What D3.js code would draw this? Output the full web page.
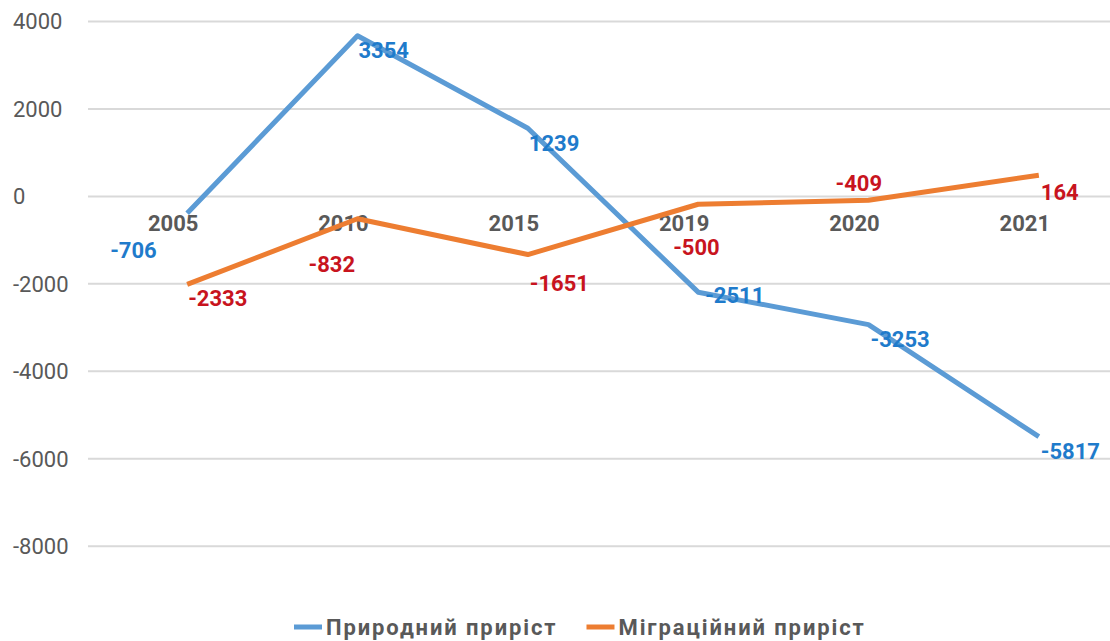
<!DOCTYPE html>
<html>
<head>
<meta charset="utf-8">
<script src="https://cdn.jsdelivr.net/npm/d3@7"></script>
<style>
body{margin:0;background:#fff;}
svg{font-family:Roboto,"Liberation Sans",sans-serif;}
</style>
</head>
<body>
<div id="plot" style="width:1110px;height:641px;"></div>
<script>
// data
var years = ['2005','2010','2015','2019','2020','2021'];
var natural = [-706, 3354, 1239, -2511, -3253, -5817];
var migration = [-2333, -832, -1651, -500, -409, 164];
var yTicks = [4000, 2000, 0, -2000, -4000, -6000, -8000];
var seriesNames = ['Природний приріст', 'Міграційний приріст'];

// hand placed label nudges (layout only)
var naturalNudge = [[-77,23],[1,0],[1,1],[7,-11],[2,0],[2,0]];
var migrationNudge = [[1,0],[-49,31],[2,15],[-25,29],[-33,-31],[2,3]];

var margin = {t:21.5, r:0, b:95, l:88};
var width = 1110 - margin.l - margin.r,
	height = 641 - margin.t - margin.b;

var svg = d3.select('#plot')
	.append('svg')
	.attr('width', 1110)
	.attr('height', 641);

var plot = svg.append('g')
	.attr('transform','translate('+margin.l+','+margin.t+')');

var x = d3.scaleBand().domain(years).range([0, width]);
var y = d3.scaleLinear().domain([-8000, 4000]).range([height * 1.0003, 0]);
// the plotted lines sit a little off the axis in the original
var shift = 14;
function px(d, i) { return x(years[i]) + x.bandwidth()/2; }

// gridlines
plot.selectAll('.grid')
	.data(yTicks)
	.enter()
	.append('line')
	.attr('x1', 0)
	.attr('x2', width)
	.attr('y1', function(d){ return y(d); })
	.attr('y2', function(d){ return y(d); })
	.style('stroke', '#d9d9d9')
	.style('stroke-width', 2);

// y tick labels
svg.selectAll('.ytick')
	.data(yTicks)
	.enter()
	.append('text')
	.attr('x', 13)
	.attr('y', function(d){ return margin.t + y(d); })
	.attr('dy', '0.36em')
	.style('font-size', '22px')
	.style('fill', '#595959')
	.text(function(d){ return d; });

// category labels next to the zero line
plot.selectAll('.xtick')
	.data(years)
	.enter()
	.append('text')
	.attr('x', function(d){ return x(d) + x.bandwidth()/2; })
	.attr('y', y(0) + 27)
	.attr('dy', '0.36em')
	.attr('text-anchor', 'middle')
	.style('font-size', '22px')
	.style('font-weight', 'bold')
	.style('fill', '#595959')
	.text(function(d){ return d; });

var series = [
	{name: seriesNames[0], values: natural, nudge: naturalNudge, line: '#5b9bd5', label: '#1f7bcb'},
	{name: seriesNames[1], values: migration, nudge: migrationNudge, line: '#ed7d31', label: '#c8141e'}
];

var lineGen = d3.line()
	.x(function(d, i){ return px(d, i); })
	.y(function(d){ return y(d); });

series.forEach(function(s) {
	plot.append('path')
		.datum(s.values)
		.attr('transform', 'translate('+shift+','+(-shift)+')')
		.attr('d', lineGen)
		.style('fill', 'none')
		.style('stroke', s.line)
		.style('stroke-width', 5)
		.style('stroke-linejoin', 'round');
});

series.forEach(function(s) {
	plot.selectAll(null)
		.data(s.values)
		.enter()
		.append('text')
		.attr('x', function(d, i){ return px(d, i) + shift + s.nudge[i][0]; })
		.attr('y', function(d, i){ return y(d) + s.nudge[i][1]; })
		.attr('dy', '0.36em')
		.style('font-size', '22px')
		.style('font-weight', 'bold')
		.style('fill', s.label)
		.text(function(d){ return d; });
});

// legend
var legend = svg.append('g').attr('transform', 'translate(294,627)');
var lx = 0;
series.forEach(function(s) {
	legend.append('line')
		.attr('x1', lx).attr('x2', lx + 28)
		.attr('y1', 0).attr('y2', 0)
		.style('stroke', s.line)
		.style('stroke-width', 5);
	var t = legend.append('text')
		.attr('x', lx + 32)
		.attr('y', 0)
		.attr('dy', '0.36em')
		.style('font-size', '22px')
		.style('font-weight', 'bold')
		.style('letter-spacing', '1.9px')
		.style('fill', '#595959')
		.text(s.name);
	lx += 32 + t.node().getComputedTextLength() + 29;
});
</script>
</body>
</html>
